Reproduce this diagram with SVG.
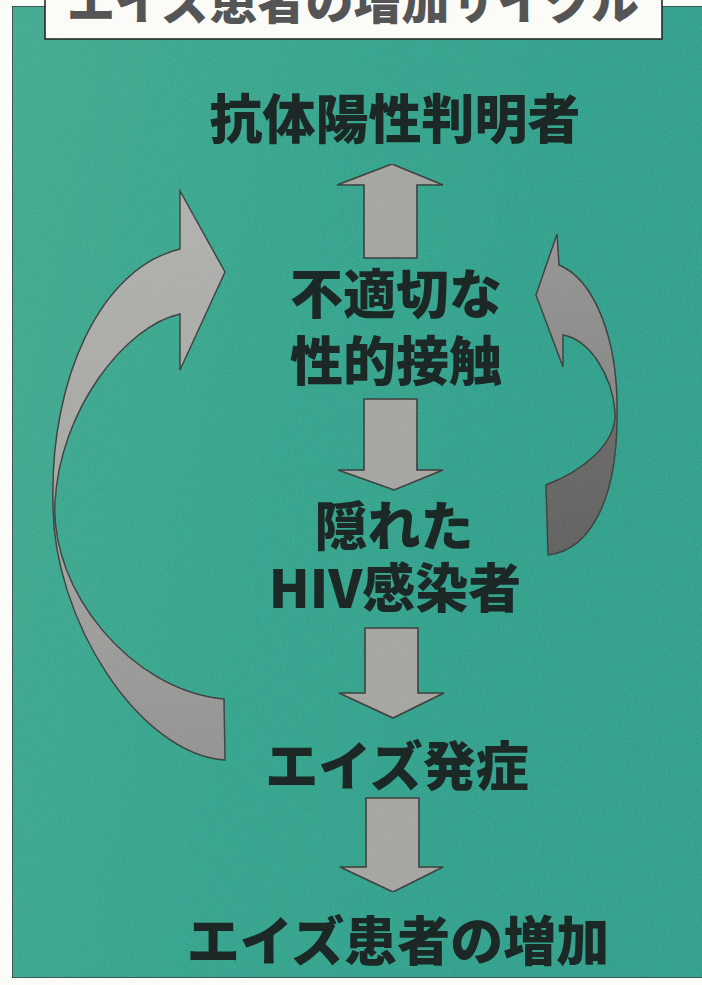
<svg xmlns="http://www.w3.org/2000/svg" width="702" height="985" viewBox="0 0 702 985">
<defs>
<style>
.lbl{font-family:"Noto Sans CJK JP","Noto Sans CJK SC",sans-serif;font-weight:900;font-size:53px;fill:#1b2826;text-anchor:middle}
.ttl{font-family:"Noto Sans CJK JP","Noto Sans CJK SC",sans-serif;font-weight:900;font-size:48px;fill:#555555;text-anchor:middle}
.arr{fill:#a5a5a1;stroke:#2a2e2c;stroke-width:1.6;stroke-linejoin:miter}
.curve{stroke:#2a2e2c;stroke-width:1.4;stroke-linejoin:miter}
</style>
<linearGradient id="bg" x1="0" y1="0" x2="1" y2="0.3">
<stop offset="0" stop-color="#36aa90"/>
<stop offset="0.5" stop-color="#1ea58c"/>
<stop offset="1" stop-color="#12a08a"/>
</linearGradient>
<linearGradient id="lg" x1="0" y1="0" x2="0" y2="1">
<stop offset="0" stop-color="#b2b2ae"/>
<stop offset="0.55" stop-color="#a6a6a2"/>
<stop offset="1" stop-color="#929290"/>
</linearGradient>
<linearGradient id="rg" x1="0" y1="0" x2="0" y2="1">
<stop offset="0" stop-color="#959593"/>
<stop offset="0.52" stop-color="#858583"/>
<stop offset="0.6" stop-color="#646462"/>
<stop offset="1" stop-color="#5a5a58"/>
</linearGradient>
<filter id="grain" x="0" y="0" width="100%" height="100%">
<feTurbulence type="fractalNoise" baseFrequency="0.85" numOctaves="2" seed="3" result="n"/>
<feColorMatrix in="n" type="saturate" values="0" result="g"/>
<feComponentTransfer in="g" result="ga"><feFuncA type="linear" slope="0" intercept="0.07"/></feComponentTransfer>
<feComposite in="ga" in2="SourceGraphic" operator="in" result="gc"/>
<feMerge><feMergeNode in="SourceGraphic"/><feMergeNode in="gc"/></feMerge>
</filter>
</defs>

<rect x="0" y="0" width="702" height="985" fill="#fbfbf8"/>
<g id="background" filter="url(#grain)">
<rect x="12" y="6" width="692" height="972" fill="url(#bg)" stroke="#2a2e2c" stroke-width="1.5"/>
</g>

<g id="title">
<rect x="45" y="-5" width="617" height="44" fill="#fbfbf8" stroke="#2a2a2a" stroke-width="1.6"/>
<text class="ttl" x="353" y="19">エイズ患者の増加サイクル</text>
</g>

<g id="connectors" filter="url(#grain)">
<path id="arrow-up" class="arr" d="M364,258 L364,185 L337,185 L392,164 L443,185 L417,185 L417,258 Z"/>
<path id="arrow-down-1" class="arr" d="M364,399 L417,399 L417,470 L443,470 L394,490 L338,470 L364,470 Z"/>
<path id="arrow-down-2" class="arr" d="M365,628 L418,628 L418,693 L444,693 L393,718 L339,693 L365,693 Z"/>
<path id="arrow-down-3" class="arr" d="M366,798 L419,798 L419,867 L443,867 L393,892 L340,867 L366,867 Z"/>
<path id="arrow-left-cycle" class="curve" fill="url(#lg)" d="M180,249 L180,191 L225,272 L180,370 L180,314 C125,326 60,410 55,502 C50,590 130,690 224,699 L225,760 C140,755 52,620 53,502 C50,380 100,268 180,249 Z"/>
<path id="arrow-right-cycle" class="curve" fill="url(#rg)" d="M559,265 L557,234 L536,295 L563,367 L563,335 C590,340 612,375 615,412 C617,445 580,472 546,485 L548,555 C590,550 618,500 617,412 C618,340 595,280 559,265 Z"/>
</g>

<g id="n-antibody">
<text class="lbl" x="395" y="139">抗体陽性判明者</text>
</g>
<g id="n-contact">
<text class="lbl" x="396" y="314">不適切な</text>
<text class="lbl" x="396" y="381">性的接触</text>
</g>
<g id="n-hidden">
<text class="lbl" x="394" y="546">隠れた</text>
<text class="lbl" x="395" y="608">HIV感染者</text>
</g>
<g id="n-onset">
<text class="lbl" x="397" y="786">エイズ発症</text>
</g>
<g id="n-increase">
<text class="lbl" x="398" y="961">エイズ患者の増加</text>
</g>
</svg>
